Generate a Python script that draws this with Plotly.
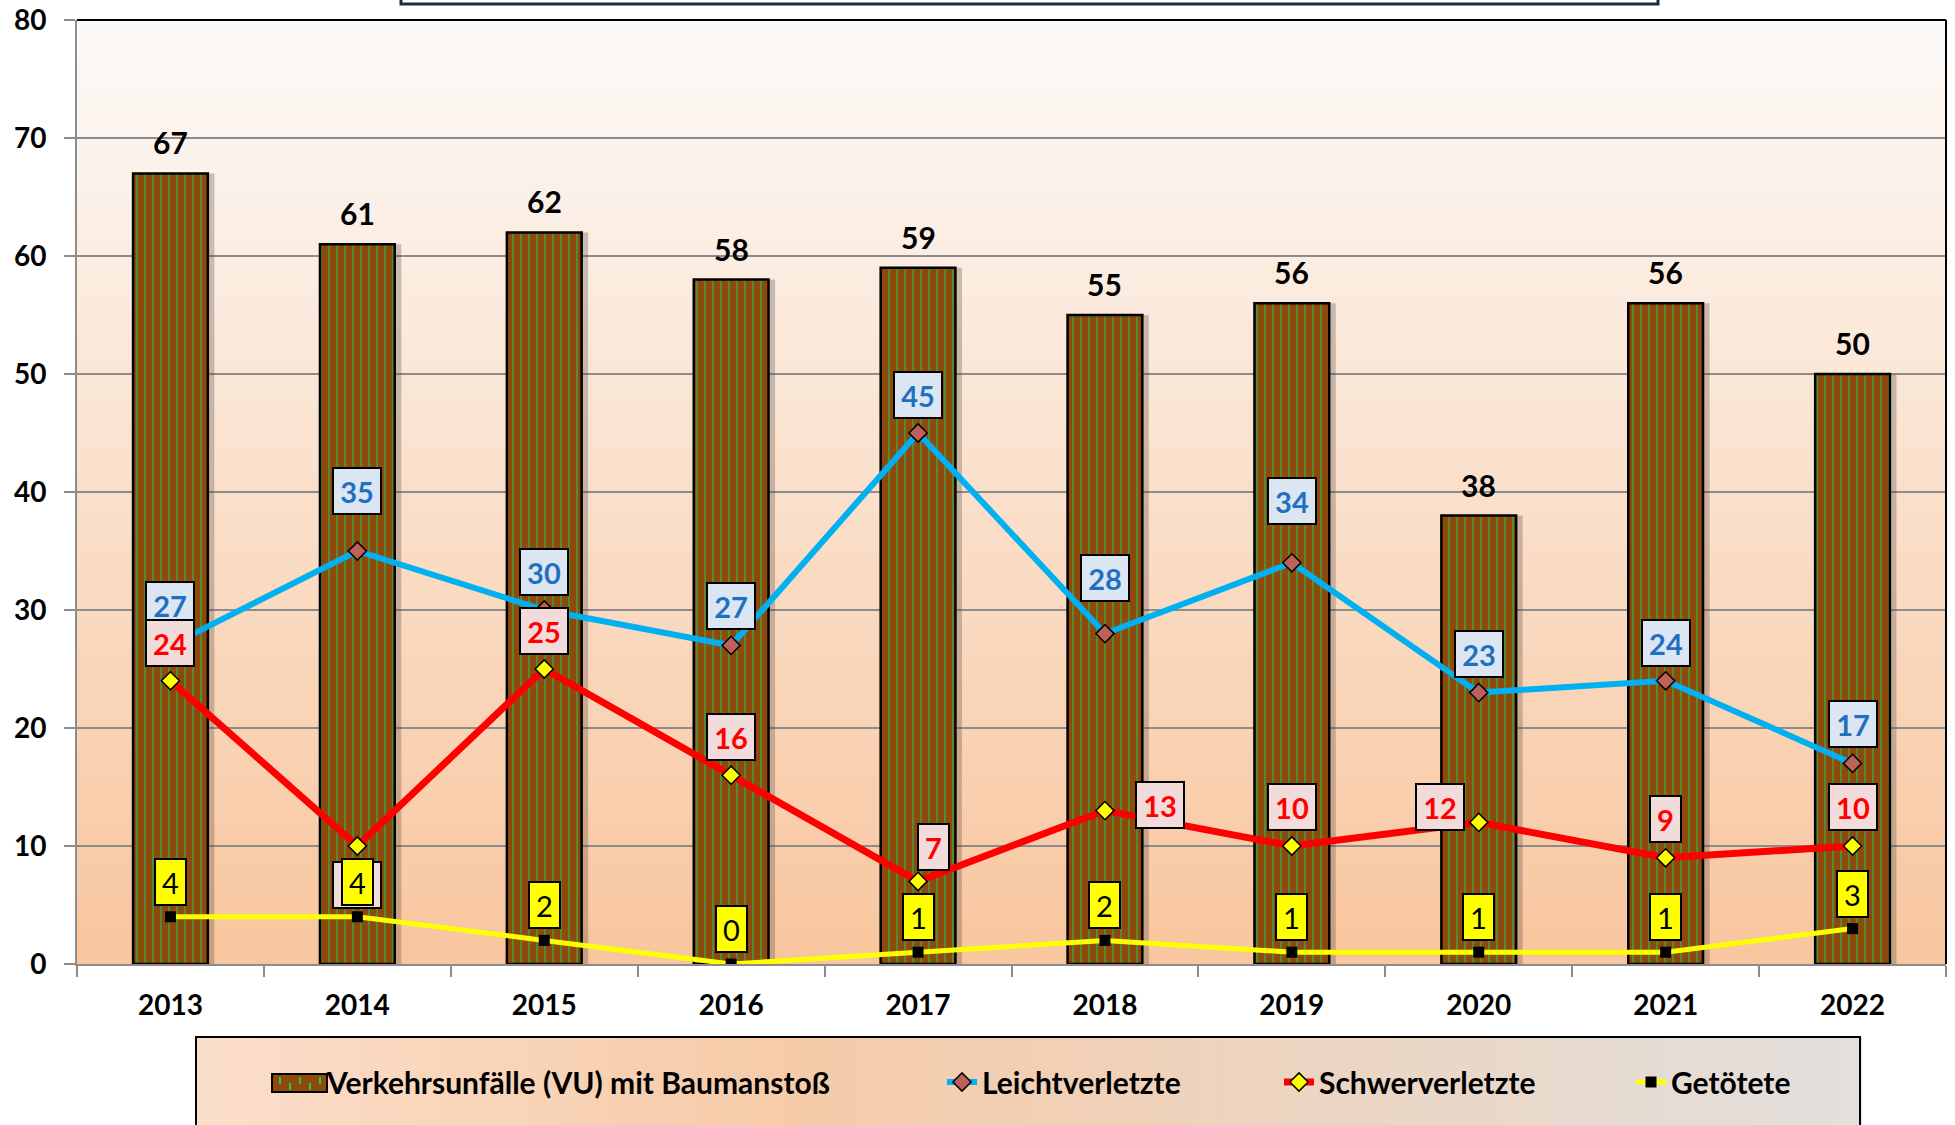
import plotly.graph_objects as go

years = ["2013", "2014", "2015", "2016", "2017", "2018", "2019", "2020", "2021", "2022"]
unfaelle = [67, 61, 62, 58, 59, 55, 56, 38, 56, 50]
leicht = [27, 35, 30, 27, 45, 28, 34, 23, 24, 17]
schwer = [24, 10, 25, 16, 7, 13, 10, 12, 9, 10]
getoetet = [4, 4, 2, 0, 1, 2, 1, 1, 1, 3]

# label offsets in px (label placement tweaks, like in the original)
leicht_dy = [40, 60, 38, 39, 38, 56, 62, 39, 38, 39]
schwer_dy = [38, -39, 38, 38, 34, 6, 39, 15, 39, 39]
schwer_dx = [0, 0, 0, 0, 15, 55, 0, -39, 0, 0]

FONT = "Lato"
W, H = 1955, 1125
L, R, T, B = 77, 9, 20, 161
PW, PH = W - L - R, H - T - B
BROWN = "#8E4A0B"
GREEN = "#22C55E"


def px2x(px):
    return (px - L) / PW


def py2y(py):
    return (H - B - py) / PH


def mix(c1, c2, t):
    return "rgb(%d,%d,%d)" % tuple(round(a + (b - a) * t) for a, b in zip(c1, c2))


fig = go.Figure()

# soft shadow behind the bars
fig.add_trace(go.Bar(
    x=years, y=unfaelle, width=0.4, offset=-0.165,
    marker=dict(color="rgba(90,70,60,0.30)", line=dict(width=0)),
    showlegend=False, hoverinfo="skip",
))
fig.add_trace(go.Bar(
    x=years, y=unfaelle, name="Verkehrsunfälle (VU) mit Baumanstoß",
    width=0.4, offset=-0.2,
    marker=dict(color=BROWN, line=dict(color="black", width=2.5),
                pattern=dict(shape="|", fgcolor=GREEN, bgcolor=BROWN,
                             size=8, solidity=0.25)),
    showlegend=False,
))
# legend entry for the bars (symbol drawn with shapes below)
fig.add_trace(go.Scatter(
    x=[None], y=[None], name="Verkehrsunfälle (VU) mit Baumanstoß", mode="markers",
    marker=dict(size=1, color="rgba(0,0,0,0)"), legend="legend",
))
fig.add_trace(go.Scatter(
    x=years, y=leicht, name="Leichtverletzte", mode="lines+markers",
    line=dict(color="#00B0F0", width=6),
    marker=dict(symbol="diamond", size=14, color="#C0605A",
                line=dict(color="black", width=1.5)),
    legend="legend2",
))
fig.add_trace(go.Scatter(
    x=years, y=schwer, name="Schwerverletzte", mode="lines+markers",
    line=dict(color="#FF0000", width=7),
    marker=dict(symbol="diamond", size=14, color="#FFFF00",
                line=dict(color="black", width=1.5)),
    legend="legend3",
))
fig.add_trace(go.Scatter(
    x=years, y=getoetet, name="Getötete", mode="lines+markers",
    line=dict(color="#FFFF00", width=5),
    marker=dict(symbol="square", size=11, color="black",
                line=dict(color="black", width=0)),
    legend="legend4",
))

shapes = []
# plot area vertical gradient
n = 80
top_c, bot_c = (252, 250, 248), (248, 198, 158)
for i in range(n):
    shapes.append(dict(type="rect", xref="paper", yref="paper", layer="below",
                       x0=0, x1=1, y0=1 - (i + 1) / n - 0.002, y1=1 - i / n,
                       fillcolor=mix(top_c, bot_c, i / (n - 1)), line=dict(width=0)))
# top / right black border of the plot area
shapes.append(dict(type="line", xref="paper", yref="paper", x0=0, x1=1, y0=1, y1=1,
                   line=dict(color="black", width=2)))
shapes.append(dict(type="line", xref="paper", yref="paper", x0=1, x1=1, y0=0, y1=1,
                   line=dict(color="black", width=2)))

# legend box with horizontal gradient
lx0, lx1 = px2x(196), px2x(1860)
ly1, ly0 = py2y(1037), py2y(1135)
stops = [(0.0, (251, 222, 202)), (0.35, (246, 203, 168)), (1.0, (226, 223, 220))]
m = 60
for i in range(m):
    t = i / (m - 1)
    for (a, ca), (b, cb) in zip(stops, stops[1:]):
        if a <= t <= b:
            col = mix(ca, cb, (t - a) / (b - a))
            break
    shapes.append(dict(type="rect", xref="paper", yref="paper", layer="below",
                       x0=lx0 + (lx1 - lx0) * i / m, x1=lx0 + (lx1 - lx0) * (i + 1) / m + 0.001,
                       y0=ly0, y1=ly1, fillcolor=col, line=dict(width=0)))
shapes.append(dict(type="rect", xref="paper", yref="paper", x0=lx0, x1=lx1, y0=ly0, y1=ly1,
                   line=dict(color="black", width=2), fillcolor="rgba(0,0,0,0)"))
# bar legend symbol
sx0, sx1, sy0, sy1 = 272, 327, 1074, 1092
shapes.append(dict(type="rect", xref="paper", yref="paper",
                   x0=px2x(sx0), x1=px2x(sx1), y0=py2y(sy1), y1=py2y(sy0),
                   fillcolor=BROWN, line=dict(color="black", width=2)))
for k, gx in enumerate(range(sx0 + 8, sx1 - 4, 10)):
    gy0, gy1 = (sy0 + 3, sy0 + 10) if k % 2 == 0 else (sy0 + 9, sy1 - 2)
    shapes.append(dict(type="line", xref="paper", yref="paper",
                       x0=px2x(gx), x1=px2x(gx), y0=py2y(gy1), y1=py2y(gy0),
                       line=dict(color=GREEN, width=2)))
# cut-off title box at the very top
shapes.append(dict(type="rect", xref="paper", yref="paper",
                   x0=px2x(401), x1=px2x(1658), y0=py2y(4), y1=py2y(-30),
                   line=dict(color="#1F2A44", width=3), fillcolor="white"))

annotations = []
for i, v in enumerate(unfaelle):
    annotations.append(dict(x=i, y=v, text=str(v), showarrow=False, yshift=31,
                            font=dict(family=FONT, size=30, color="black", weight="bold")))


def box(i, v, dy, dx, fg, bg, bold):
    w = 50 if len(str(v)) > 1 else 33
    return dict(x=i, y=v, text=str(v), showarrow=False, yshift=dy, xshift=dx,
                width=w - 4, height=44, borderpad=0, borderwidth=2, bordercolor="black",
                bgcolor=bg, align="center", valign="middle",
                font=dict(family=FONT, size=29, color=fg, weight="bold" if bold else "normal"))


for i, v in enumerate(leicht):
    annotations.append(box(i, v, leicht_dy[i], 0, "#1F70C1", "#DCE6F2", True))
for i, v in enumerate(schwer):
    annotations.append(box(i, v, schwer_dy[i], schwer_dx[i], "#FF0000", "#F2DCDB", True))
for i, v in enumerate(getoetet):
    annotations.append(box(i, v, 35, 0, "black", "#FFFF00", False))

leg_common = dict(orientation="h", yanchor="middle", y=py2y(1082), xanchor="left",
                  bgcolor="rgba(0,0,0,0)", borderwidth=0,
                  font=dict(family=FONT, size=30, color="black", weight="bold"))

fig.update_layout(
    width=W, height=H,
    margin=dict(l=L, r=R, t=T, b=B, autoexpand=False),
    paper_bgcolor="white",
    plot_bgcolor="rgba(0,0,0,0)",
    showlegend=True,
    barmode="overlay",
    shapes=shapes,
    annotations=annotations,
    legend=dict(leg_common, x=px2x(287)),
    legend2=dict(leg_common, x=px2x(942)),
    legend3=dict(leg_common, x=px2x(1279)),
    legend4=dict(leg_common, x=px2x(1631)),
    xaxis=dict(
        type="category", range=[-0.5, len(years) - 0.5], tickson="boundaries",
        ticks="outside", ticklen=11,
        tickcolor="#8c8c8c", tickwidth=2, showline=True, linecolor="#8c8c8c", linewidth=2,
        showgrid=False, ticklabelstandoff=15, tickangle=0,
        tickfont=dict(family=FONT, size=28, color="black", weight="bold"),
    ),
    yaxis=dict(
        range=[0, 80], dtick=10, ticks="outside", ticklen=11, tickcolor="#8c8c8c",
        tickwidth=2, showline=True, linecolor="#8c8c8c", linewidth=2,
        gridcolor="#8c8c8c", gridwidth=2, zeroline=False, ticklabelstandoff=12,
        tickfont=dict(family=FONT, size=28, color="black", weight="bold"),
    ),
)

fig.write_html("out.html", config={"displayModeBar": False},
               post_script="document.body.style.margin='0';")
